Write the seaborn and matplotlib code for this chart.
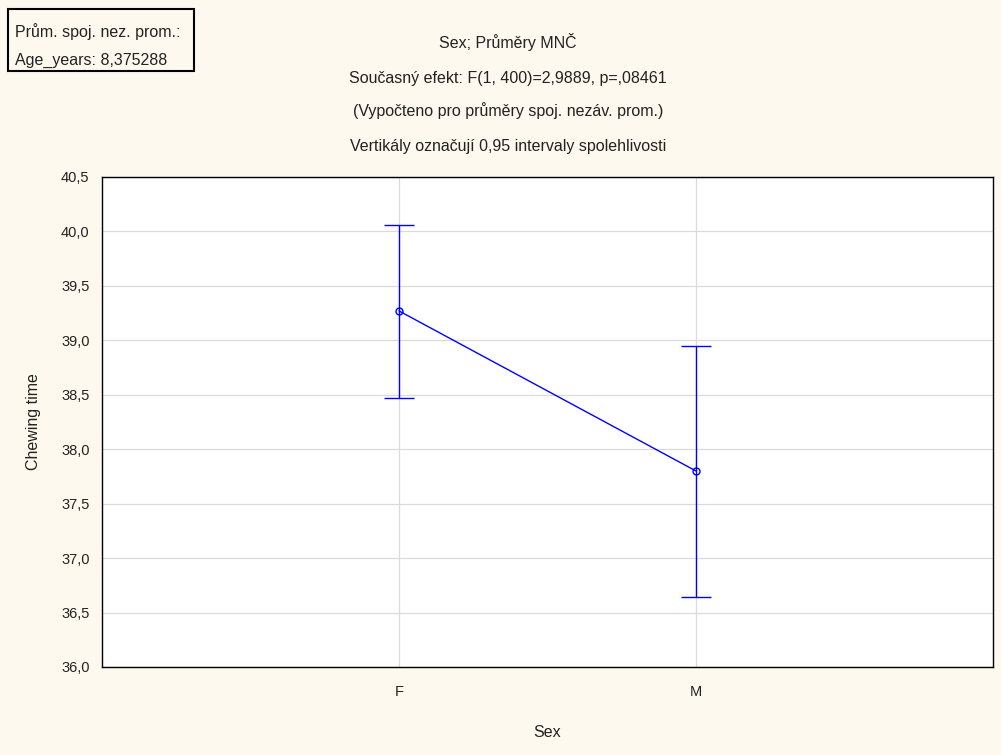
import numpy as np
import pandas as pd
import matplotlib
matplotlib.use("Agg")
import matplotlib.pyplot as plt
import seaborn as sns

# Least-squares means of chewing time by sex with 95% confidence limits
sex = ["F", "M"]
means = [39.27, 37.80]
ci_lower = [38.47, 36.64]
ci_upper = [40.06, 38.95]

y_ticks = [36.0, 36.5, 37.0, 37.5, 38.0, 38.5, 39.0, 39.5, 40.0, 40.5]

title_lines = [
    "Sex; Průměry MNČ",
    "Současný efekt: F(1, 400)=2,9889, p=,08461",
    "(Vypočteno pro průměry spoj. nezáv. prom.)",
    "Vertikály označují 0,95 intervaly spolehlivosti",
]
covariate_lines = ["Prům. spoj. nez. prom.:", "Age_years: 8,375288"]

sns.set_theme(style="whitegrid")
plt.rcParams["font.family"] = ["Liberation Sans", "DejaVu Sans"]

bg = "#FEF9EE"
line_col = "#0000FF"
text_col = "#222222"

df = pd.DataFrame({"Sex": sex, "Chewing time": means})

fig = plt.figure(figsize=(10.01, 7.55), dpi=100, facecolor=bg)
ax = fig.add_axes([102 / 1001, 88 / 755, 891 / 1001, 490 / 755])
ax.set_facecolor("white")

sns.pointplot(data=df, x="Sex", y="Chewing time", errorbar=None, color=line_col,
              markers="o", linestyles="-", markersize=5, linewidth=1.0, ax=ax)
for coll in ax.collections:
    coll.set_facecolor("none")
for ln in ax.lines:
    ln.set_markerfacecolor("none")
    ln.set_markeredgewidth(1.0)

pos = np.arange(len(sex))
m = np.array(means)
yerr = np.vstack([m - np.array(ci_lower), np.array(ci_upper) - m])
ax.errorbar(pos, m, yerr=yerr, fmt="none", ecolor=line_col, elinewidth=1.0,
            capsize=10.5, capthick=1.0, zorder=3)

ax.set_xlim(-1, 2)
ax.set_ylim(y_ticks[0], y_ticks[-1])
ax.set_yticks(y_ticks)
ax.set_yticklabels([f"{v:.1f}".replace(".", ",") for v in y_ticks])
ax.grid(True, color="#DADADA", linewidth=0.9)
for s in ax.spines.values():
    s.set_color("black")
    s.set_linewidth(1.0)
ax.tick_params(axis="both", direction="in", length=3, width=0.8, colors="black",
               labelcolor=text_col, labelsize=10.5)
ax.tick_params(axis="x", pad=13)
ax.tick_params(axis="y", pad=9)

ax.set_xlabel("Sex", fontsize=11.5, color=text_col, labelpad=19)
ax.set_ylabel("Chewing time", fontsize=11.5, color=text_col, labelpad=14)

title_y = [42, 78, 111, 147]
for y, line in zip(title_y, title_lines):
    fig.text(508 / 1001, 1 - y / 755, line, ha="center", va="center",
             fontsize=11.5, color=text_col)

# Covariate box in the top-left corner
fig.patches.append(plt.Rectangle((8 / 1001, 1 - 71 / 755), 186 / 1001, 62 / 755,
                                 transform=fig.transFigure, facecolor="none",
                                 edgecolor="black", linewidth=1.5))
for y, line in zip([32, 60], covariate_lines):
    fig.text(15 / 1001, 1 - y / 755, line, ha="left", va="center",
             fontsize=11.5, color=text_col)

fig.savefig("out.png", dpi=100, facecolor=bg)
